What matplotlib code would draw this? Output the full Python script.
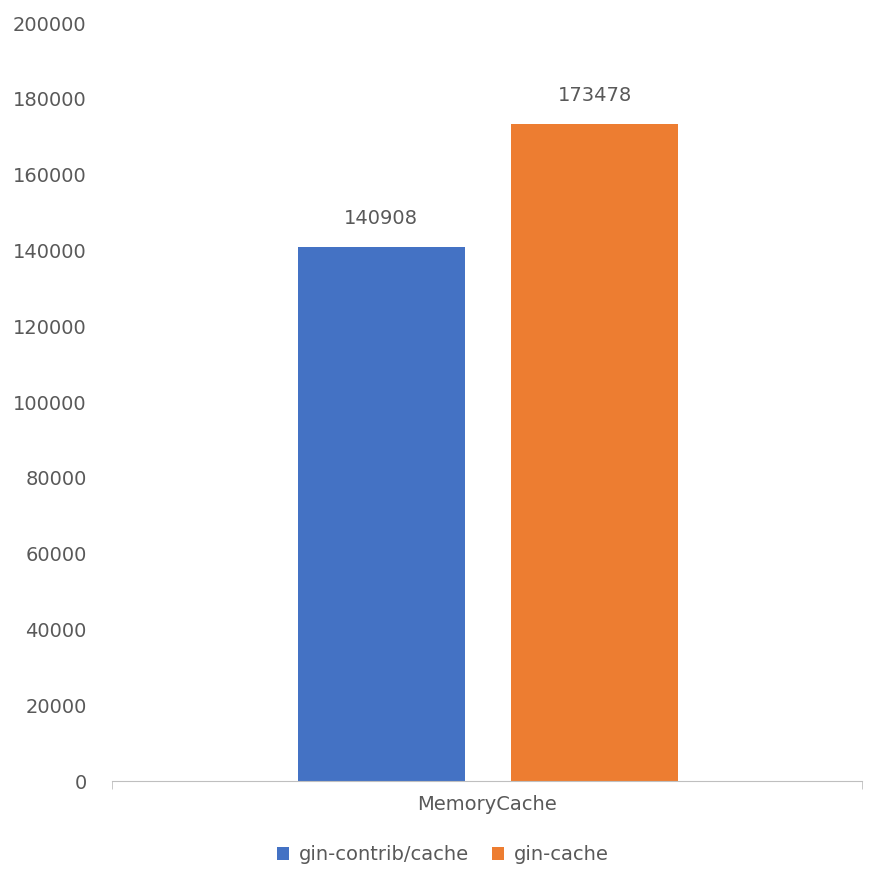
import matplotlib
matplotlib.use("Agg")
import matplotlib.pyplot as plt

categories = ["MemoryCache"]
series_names = ["gin-contrib/cache", "gin-cache"]
values = [140908, 173478]
colors = ["#4472C4", "#ED7D31"]
yticks = list(range(0, 200001, 20000))

fig = plt.figure(figsize=(8.86, 8.86), dpi=100)
ax = fig.add_axes([0.126, 0.1185, 0.847, 0.8555])
offsets = [-0.1407, 0.144]
w = 0.2227
for name, v, c, o in zip(series_names, values, colors, offsets):
    b = ax.bar(o, v, width=w, color=c, label=name)
    ax.text(o, v + 5000, str(v), ha="center", va="bottom", fontsize=14, color="#595959")
ax.set_xlim(-0.5, 0.5)
ax.set_ylim(0, 200000)
ax.set_yticks(yticks)
ax.set_yticklabels([str(t) for t in yticks], fontsize=14, color="#595959")
ax.tick_params(axis="y", length=0, pad=18)
ax.set_xticks([-0.5, 0.5], minor=True)
ax.tick_params(axis="x", which="minor", length=6, color="#BFBFBF")
ax.set_xticks([0])
ax.set_xticklabels(categories, fontsize=14, color="#595959")
ax.tick_params(axis="x", which="major", length=0, pad=10)
for s in ["top", "right", "left"]:
    ax.spines[s].set_visible(False)
ax.spines["bottom"].set_color("#BFBFBF")
leg = fig.legend(loc="center", bbox_to_anchor=(0.5, 0.035), ncol=2, frameon=False,
                 fontsize=14, handlelength=0.6, handleheight=0.6, handletextpad=0.5, columnspacing=1.2)
for t in leg.get_texts():
    t.set_color("#595959")
fig.savefig("out.png", dpi=100)
